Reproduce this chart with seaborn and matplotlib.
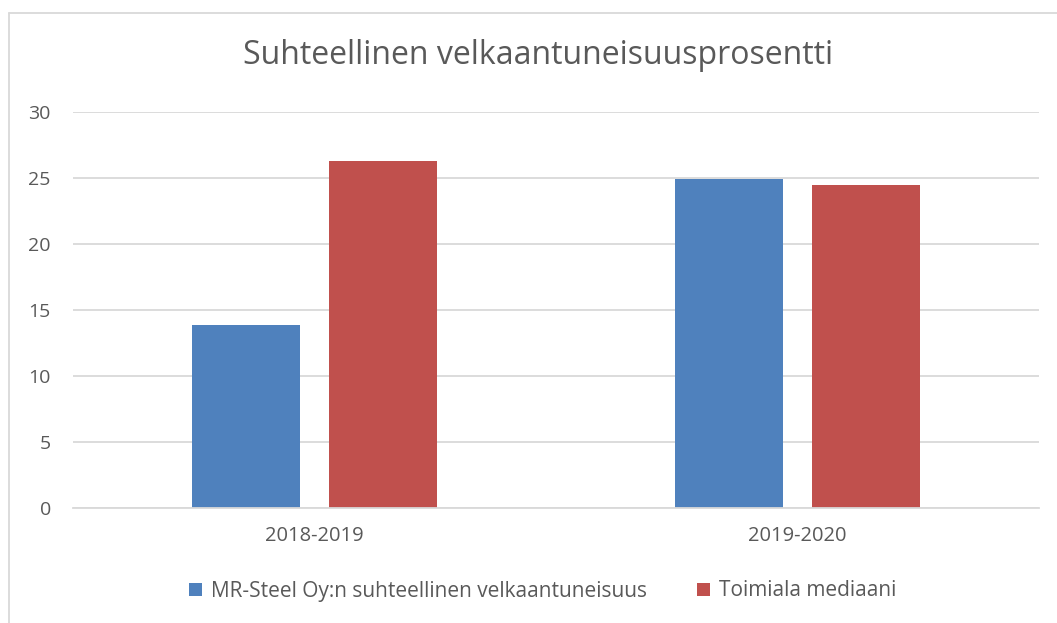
import matplotlib
matplotlib.use("Agg")
import matplotlib.pyplot as plt
import seaborn as sns
import pandas as pd
from matplotlib.patches import Patch
from matplotlib.lines import Line2D

periods = ["2018-2019", "2019-2020"]
series_names = ["MR-Steel Oy:n suhteellinen velkaantuneisuus", "Toimiala mediaani"]
company_values = [13.9, 24.9]
industry_values = [26.3, 24.5]
y_ticks = [0, 5, 10, 15, 20, 25, 30]
title = "Suhteellinen velkaantuneisuusprosentti"

colors = ["#4F81BD", "#C0504D"]
text_color = "#595959"

df = pd.DataFrame({
    "period": periods * 2,
    "series": [series_names[0]] * 2 + [series_names[1]] * 2,
    "value": company_values + industry_values,
})

sns.set_theme(style="white")
plt.rcParams["font.family"] = ["Open Sans", "DejaVu Sans"]

fig = plt.figure(figsize=(10.57, 6.23), dpi=100)
ax = fig.add_axes([73 / 1057, 1 - 508 / 623, (1039 - 73) / 1057, (508 - 112) / 623])

sns.barplot(data=df, x="period", y="value", hue="series", palette=colors,
            width=0.569, gap=0.215, ax=ax, legend=False, saturation=1, linewidth=0)

ax.set_xlim(-0.5, 1.5)
ax.set_ylim(0, 30)
ax.set_yticks(y_ticks)
ax.set_yticklabels([str(t) for t in y_ticks])
ax.grid(axis="y", color="#D9D9D9", linewidth=1.3)
ax.set_axisbelow(True)
for s in ["top", "right", "left"]:
    ax.spines[s].set_visible(False)
ax.spines["bottom"].set_color("#D9D9D9")
ax.spines["bottom"].set_linewidth(1.3)
ax.set_xlabel("")
ax.set_ylabel("")
ax.tick_params(axis="y", length=0, pad=16, labelsize=14, labelcolor=text_color)
ax.tick_params(axis="x", length=0, pad=13, labelsize=14.5, labelcolor=text_color)

fig.text(538 / 1057, 1 - 55 / 623, title, ha="center", va="center",
         fontsize=23, color=text_color)

handles = [Patch(facecolor=c, edgecolor="none") for c in colors]
fig.legend(handles, series_names, loc="center", bbox_to_anchor=(543 / 1057, 1 - 591 / 623),
           ncol=2, frameon=False, fontsize=15.0, labelcolor=text_color,
           handlelength=0.6, handleheight=0.6, handletextpad=0.45, columnspacing=2.4)

# outer chart border (left and top)
fig.add_artist(Line2D([9 / 1057, 9 / 1057], [0, 1 - 13 / 623], transform=fig.transFigure,
                      color="#D9D9D9", linewidth=1.3))
fig.add_artist(Line2D([9 / 1057, 1], [1 - 13 / 623, 1 - 13 / 623], transform=fig.transFigure,
                      color="#D9D9D9", linewidth=1.3))

fig.savefig("out.png", dpi=100)
